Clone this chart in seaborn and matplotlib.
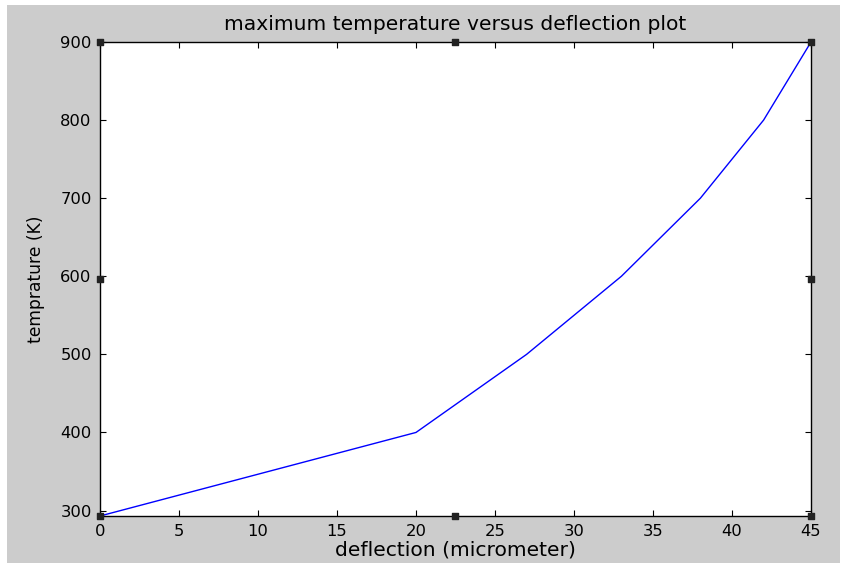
import seaborn as sns
import matplotlib.pyplot as plt
from matplotlib.patches import Rectangle
import pandas as pd

sns.set_style("ticks")
plt.rcParams['font.family'] = ['DejaVu Sans']
plt.rcParams['text.color'] = 'black'
plt.rcParams['axes.labelcolor'] = 'black'

# data
deflection = [0, 20, 27, 33, 38, 42, 45]  # micrometer
temperature = [293, 400, 500, 600, 700, 800, 900]  # K
x_ticks = [0, 5, 10, 15, 20, 25, 30, 35, 40, 45]
y_ticks = [300, 400, 500, 600, 700, 800, 900]

df = pd.DataFrame({"deflection": deflection, "temperature": temperature})

fig = plt.figure(figsize=(8.45, 5.65), dpi=100, facecolor="white")
# matlab style grey figure panel
fig.patches.append(Rectangle((7 / 845, 2 / 565), 833 / 845, 558 / 565,
                             transform=fig.transFigure, facecolor="#cccccc",
                             edgecolor="none", zorder=-10))
ax = fig.add_axes([100 / 845, 1 - 516 / 565, 711 / 845, 474 / 565])
ax.set_facecolor("white")

sns.lineplot(data=df, x="deflection", y="temperature", ax=ax,
             color="#0000ff", linewidth=1.0, estimator=None, sort=False)

ax.set_xlim(0, 45)
ax.set_ylim(293, 900)
ax.set_xticks(x_ticks)
ax.set_yticks(y_ticks)
ax.tick_params(direction="in", top=True, right=True, length=4, width=0.8,
               labelsize=11.8, pad=6, colors="black")
for s in ax.spines.values():
    s.set_visible(True)
    s.set_linewidth(1.0)
    s.set_color("black")

ax.set_title("maximum temperature versus deflection plot", fontsize=14.6, pad=9)
ax.set_xlabel("deflection (micrometer)", fontsize=14.6, labelpad=1)
ax.set_ylabel("temprature (K)", fontsize=12.3, labelpad=11)

# selection handles at corners and edge midpoints
hx = [0, 0.5, 1, 0, 1, 0, 0.5, 1]
hy = [0, 0, 0, 0.5, 0.5, 1, 1, 1]
ax.scatter(hx, hy, transform=ax.transAxes, marker="s", s=22, color="#222222",
           clip_on=False, zorder=5)

fig.savefig("out.png", dpi=100, facecolor=fig.get_facecolor())
